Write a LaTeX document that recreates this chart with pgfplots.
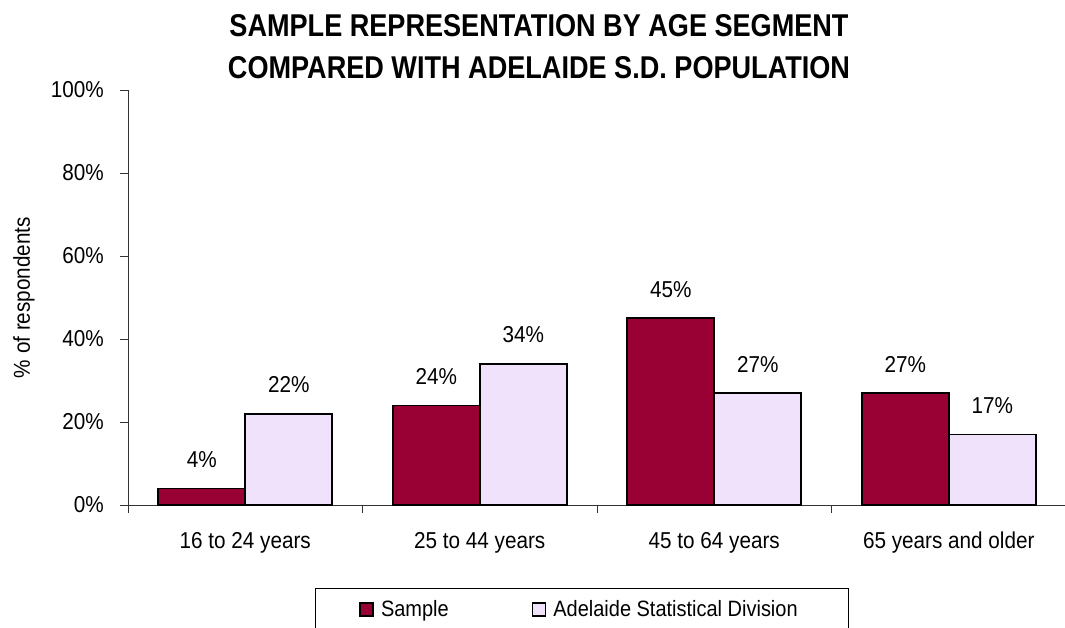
\documentclass[border=0pt]{standalone}
\usepackage{fontspec}
\setmainfont{Liberation Sans}[FakeStretch=0.9]
\newfontfamily\titlefont{Liberation Sans}[FakeStretch=0.86]
\usepackage{pgfplots}
\pgfplotsset{compat=1.18}
\definecolor{sample}{RGB}{153,0,51}
\definecolor{adelaide}{RGB}{240,226,250}

\begin{document}
\begin{tikzpicture}[x=1pt,y=1pt]
\path[use as bounding box] (0,0) rectangle (1065,-627);
% chart title
\node[align=center, font=\titlefont\bfseries\fontsize{31.5}{42}\selectfont, inner sep=0pt]
  at (539,-46.5) {SAMPLE REPRESENTATION BY AGE SEGMENT\\COMPARED WITH ADELAIDE S.D. POPULATION};
\begin{axis}[
  at={(128pt,-505pt)}, anchor=south west,
  scale only axis, width=938pt, height=415pt,
  ybar=0pt, bar width=87pt,
  xmin=-0.5, xmax=3.5, ymin=0, ymax=100,
  axis x line*=bottom, axis y line*=left,
  axis line style={-, line width=0.9pt, black!80},
  tick style={line width=0.9pt, black!80},
  tick align=outside,
  major tick length=8pt, minor tick length=8pt,
  xtick={0,1,2,3},
  xticklabels={16 to 24 years, 25 to 44 years, 45 to 64 years, 65 years and older},
  major x tick style={draw=none},
  minor xtick={-0.5,0.5,1.5,2.5,3.5},
  ytick={0,20,40,60,80,100},
  yticklabel={\pgfmathprintnumber{\tick}\%},
  /pgf/number format/assume math mode=true,
  ticklabel style={font=\fontsize{23}{27}\selectfont},
  xticklabel style={inner sep=0pt, yshift=-19pt},
  yticklabel style={inner sep=0pt, xshift=-16pt},
  ylabel={\% of respondents},
  every axis y label/.style={at={(rel axis cs:0,0.5)}, rotate=90, anchor=center,
    yshift=104pt, font=\fontsize{23}{27}\selectfont},
  nodes near coords={\pgfmathprintnumber{\pgfplotspointmeta}\%},
  every node near coord/.append style={font=\fontsize{23}{27}\selectfont,
    inner sep=0pt, yshift=20pt, black},
  legend columns=2,
  legend style={at={(rel axis cs:0,0)}, anchor=north west,
    xshift=187pt, yshift=-83pt,
    draw=black, line width=0.9pt, inner xsep=44pt, inner ysep=12pt,
    font=\fontsize{22.2}{26}\selectfont,
    nodes={inner sep=0pt},
    /tikz/every odd column/.append style={column sep=7pt},
    /tikz/every even column/.append style={column sep=83pt}},
  legend image code/.code={\draw[#1, draw=black, line width=1.6pt]
    (0pt,-6.5pt) rectangle (13pt,6.5pt);},
]
\addplot[fill=sample, draw=black, line width=1.6pt]
  coordinates {(0,4) (1,24) (2,45) (3,27)};
\addplot[fill=adelaide, draw=black, line width=1.6pt]
  coordinates {(0,22) (1,34) (2,27) (3,17)};
\legend{Sample, \mbox{Adelaide Statistical Division\kern7pt}}
\end{axis}
\end{tikzpicture}
\end{document}
